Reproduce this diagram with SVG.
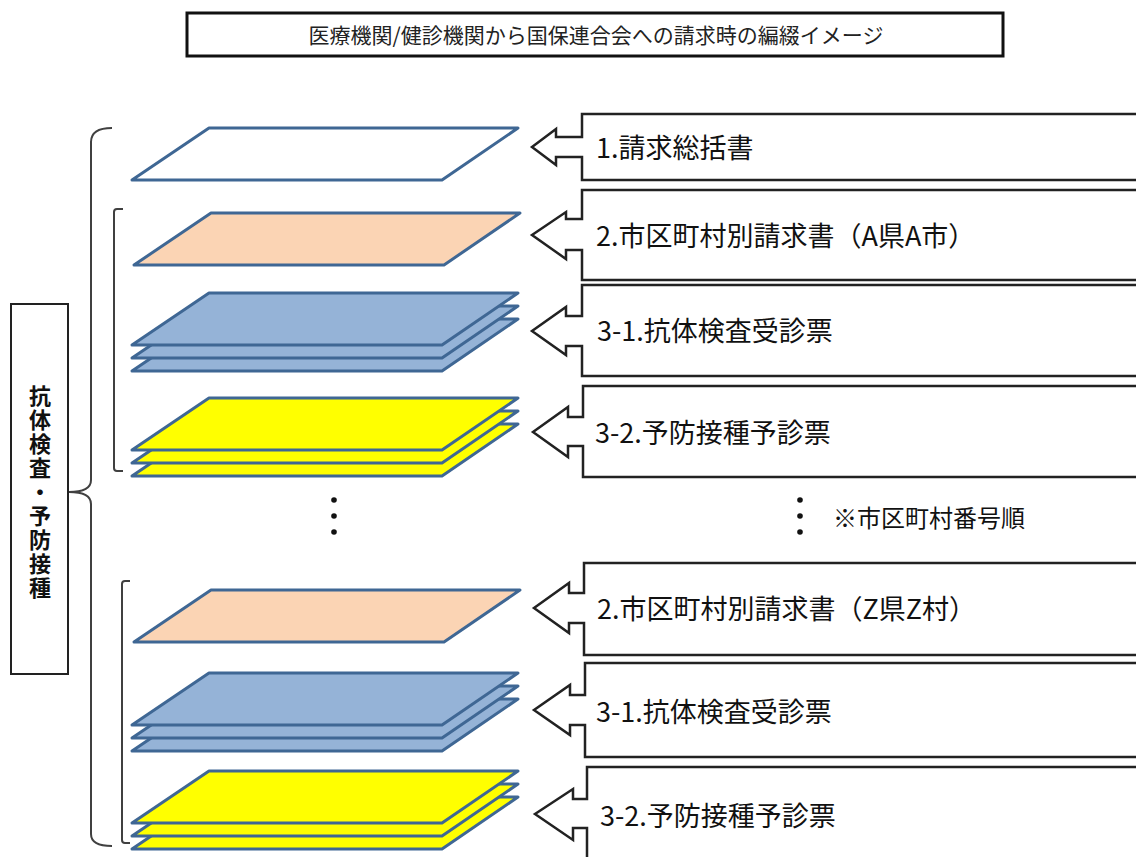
<svg xmlns="http://www.w3.org/2000/svg" width="1136" height="857" viewBox="0 0 1136 857">
<defs>
<style>
.sheet{stroke:#3F6794;stroke-width:3;stroke-linejoin:round}
.w{fill:#ffffff}.p{fill:#FBD4B4}.b{fill:#95B3D7}.y{fill:#FFFF00}
.co{fill:#ffffff;stroke:#222222;stroke-width:2.5;stroke-linejoin:miter}
.lbl{font-family:"Noto Sans CJK JP","Noto Sans",sans-serif;font-size:27px;fill:#111111}
.ttl{font-family:"Noto Sans CJK JP","Noto Sans",sans-serif;font-size:21px;fill:#222222}
.vert{font-family:"Noto Sans CJK JP",sans-serif;font-size:22px;font-weight:bold;fill:#111111;writing-mode:vertical-rl;letter-spacing:2px}
.brace{fill:none;stroke:#404040;stroke-width:2}
</style>
<path id="sh" d="M77,0 L386,0 L310,52 L0,52 Z"/>
</defs>
<rect width="1136" height="857" fill="#ffffff"/>

<g id="title">
<rect x="187" y="13" width="816" height="43" fill="#ffffff" stroke="#111111" stroke-width="3"/>
<text class="ttl" x="596" y="43" text-anchor="middle">医療機関/健診機関から国保連合会への請求時の編綴イメージ</text>
</g>

<g id="label-box">
<rect x="11" y="304" width="57" height="370" fill="#ffffff" stroke="#222222" stroke-width="2"/>
<text class="vert" x="40" y="385">抗体検査・予防接種</text>
</g>

<g id="braces">
<path class="brace" d="M112,128 Q91,128 91,142 L91,480 Q91,492 69,492 Q91,492 91,504 L91,834 Q91,846 112,846"/>
<path class="brace" d="M123,209 L117,209 Q114,209 114,212 L114,468 Q114,471 117,471 L123,471"/>
<path class="brace" d="M130,581 L125,581 Q122,581 122,584 L122,840 Q122,843 125,843 L130,843"/>
</g>

<g id="sheet-1-total"><use href="#sh" x="132" y="128" class="sheet w"/></g>
<g id="sheet-2-A"><use href="#sh" x="134" y="213" class="sheet p"/></g>
<g id="sheet-31-A">
<use href="#sh" x="132" y="319" class="sheet b"/>
<use href="#sh" x="132" y="306" class="sheet b"/>
<use href="#sh" x="132" y="293" class="sheet b"/>
</g>
<g id="sheet-32-A">
<use href="#sh" x="132" y="424" class="sheet y"/>
<use href="#sh" x="132" y="411" class="sheet y"/>
<use href="#sh" x="132" y="398" class="sheet y"/>
</g>
<g id="sheet-2-Z"><use href="#sh" x="134" y="590" class="sheet p"/></g>
<g id="sheet-31-Z">
<use href="#sh" x="132" y="699" class="sheet b"/>
<use href="#sh" x="132" y="686" class="sheet b"/>
<use href="#sh" x="132" y="673" class="sheet b"/>
</g>
<g id="sheet-32-Z">
<use href="#sh" x="132" y="797" class="sheet y"/>
<use href="#sh" x="132" y="784" class="sheet y"/>
<use href="#sh" x="132" y="771" class="sheet y"/>
</g>

<g id="dots">
<circle cx="334" cy="500" r="2.8" fill="#111"/><circle cx="334" cy="516" r="2.8" fill="#111"/><circle cx="334" cy="532" r="2.8" fill="#111"/>
<circle cx="800" cy="500" r="2.8" fill="#111"/><circle cx="800" cy="516" r="2.8" fill="#111"/><circle cx="800" cy="532" r="2.8" fill="#111"/>
<text class="lbl" x="833" y="527" style="font-size:24px">※市区町村番号順</text>
</g>

<g id="connectors">
<g id="callout-1">
<path class="co" d="M1150,114 L582,114 L582,137 L556,137 L556,129 L532,147 L556,165 L556,157 L582,157 L582,180 L1150,180 Z"/>
<text class="lbl" x="596" y="158">1.請求総括書</text>
</g>
<g id="callout-2">
<path class="co" d="M1150,190 L582,190 L582,219 L566,219 L566,212 L532,235 L566,259 L566,250 L582,250 L582,280 L1150,280 Z"/>
<text class="lbl" x="596" y="246">2.市区町村別請求書（A県A市）</text>
</g>
<g id="callout-3">
<path class="co" d="M1150,285 L582,285 L582,316 L566,316 L566,307 L532,331 L566,355 L566,346 L582,346 L582,376 L1150,376 Z"/>
<text class="lbl" x="597" y="341">3-1.抗体検査受診票</text>
</g>
<g id="callout-4">
<path class="co" d="M1150,386 L583,386 L583,417 L568,417 L568,407 L533,432 L568,457 L568,446 L583,446 L583,477 L1150,477 Z"/>
<text class="lbl" x="595" y="443">3-2.予防接種予診票</text>
</g>
<g id="callout-5">
<path class="co" d="M1150,563 L584,563 L584,593 L569,593 L569,583 L534,608 L569,633 L569,623 L584,623 L584,655 L1150,655 Z"/>
<text class="lbl" x="597" y="619">2.市区町村別請求書（Z県Z村）</text>
</g>
<g id="callout-6">
<path class="co" d="M1150,663 L585,663 L585,695 L570,695 L570,685 L534,710 L570,735 L570,725 L585,725 L585,757 L1150,757 Z"/>
<text class="lbl" x="596" y="722">3-1.抗体検査受診票</text>
</g>
<g id="callout-7">
<path class="co" d="M1150,767 L587,767 L587,799 L573,799 L573,789 L535,814 L573,840 L573,828 L587,828 L587,862 L1150,862 Z"/>
<text class="lbl" x="600" y="826">3-2.予防接種予診票</text>
</g>
</g>
</svg>
